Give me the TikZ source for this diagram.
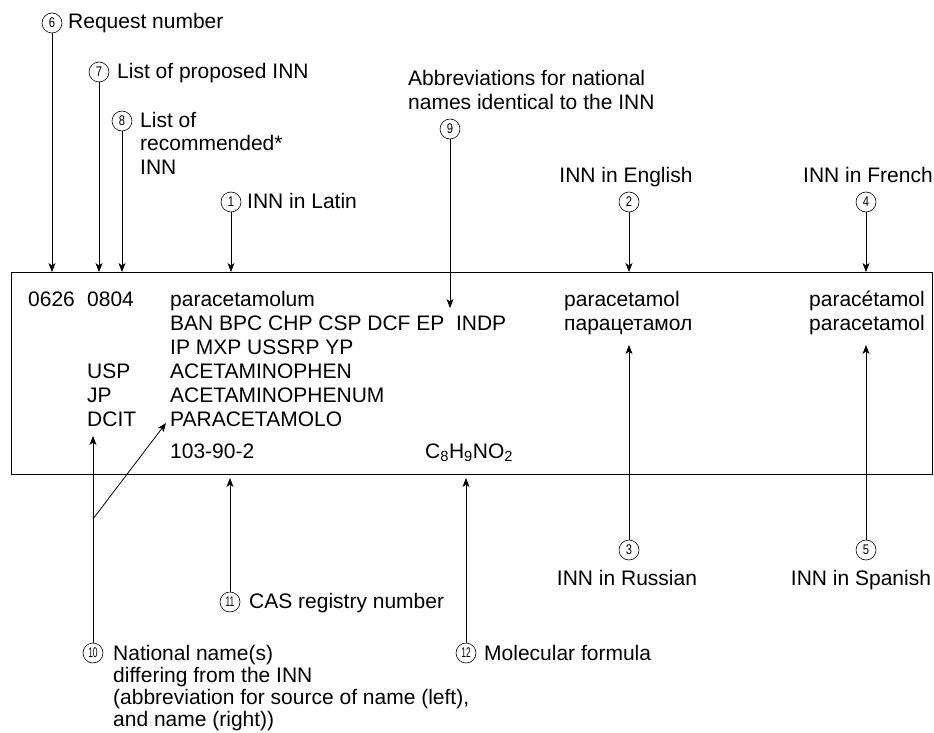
\documentclass[tikz,border=0pt]{standalone}
\usepackage{fontspec}
\setmainfont{Liberation Sans}
\usepackage{graphicx}
\usetikzlibrary{arrows.meta}
\tikzstyle{callout} = [circle, draw=black, line width=0.6pt, inner sep=0pt, minimum size=20pt, font=\fontsize{14}{14}\selectfont]
\tikzstyle{note} = [inner sep=0pt, anchor=base west, align=left, font=\fontsize{21}{24}\selectfont]
\tikzstyle{entry} = [inner sep=0pt, anchor=base west, font=\fontsize{21}{24}\selectfont]
\tikzstyle{arrow} = [line width=0.8pt, -{Stealth[length=9pt, width=7pt, inset=2.5pt]}]
\newcommand{\cnum}[1]{\scalebox{0.8}[1]{#1}}
\newcommand{\cnumw}[1]{\scalebox{0.6}[1]{#1}}

\begin{document}
\begin{tikzpicture}[x=1pt, y=-1pt]
\useasboundingbox (0,0) rectangle (934,733);

% the record
\node (box) [draw=black, line width=1pt, inner sep=0pt, anchor=north west, minimum width=921pt, minimum height=202pt] at (11,272) {};

\node (rq) [entry] at (28,306) {0626};
\node (pl) [entry] at (87,306) {0804};
\node (la) [entry] at (170,306) {paracetamolum};
\node (ab1) [entry] at (170,330) {BAN BPC CHP CSP DCF EP\ \ INDP};
\node (ab2) [entry] at (170,354) {IP MXP USSRP YP};
\node (s1) [entry] at (87,378) {USP};
\node (n1) [entry] at (170,378) {ACETAMINOPHEN};
\node (s2) [entry] at (87,402) {JP};
\node (n2) [entry] at (170,402) {ACETAMINOPHENUM};
\node (s3) [entry] at (87,426) {DCIT};
\node (n3) [entry] at (170,426) {PARACETAMOLO};
\node (cas) [entry] at (170,458) {103-90-2};
\node (mf) [entry] at (425,458) {C\textsubscript{8}H\textsubscript{9}NO\textsubscript{2}};
\node (en) [entry] at (564,306) {paracetamol};
\node (ru) [entry] at (564,330) {парацетамол};
\node (fr) [entry] at (809,306) {paracétamol};
\node (es) [entry] at (809,330) {paracetamol};

% callouts above (multi-line notes sit on their last baseline)
\node (c6) [callout] at (52,23) {\cnum{6}};
\node (t6) [note] at (68,29) {Request number};
\node (c7) [callout] at (99,72) {\cnum{7}};
\node (t7) [note] at (117,79) {List of proposed INN};
\node (c8) [callout] at (122,121) {\cnum{8}};
\node (t8) [note, font=\fontsize{21}{23.5}\selectfont] at (140,174) {List of\\recommended*\\INN};
\node (c1) [callout] at (231,202) {\cnum{1}};
\node (t1) [note] at (247,208) {INN in Latin};
\node (t9) [note] at (408,110) {Abbreviations for national\\names identical to the INN};
\node (c9) [callout] at (450,129) {\cnum{9}};
\node (t2) [note, anchor=base] at (626,182) {INN in English};
\node (c2) [callout] at (629,202) {\cnum{2}};
\node (t4) [note, anchor=base] at (868,182) {INN in French};
\node (c4) [callout] at (866,202) {\cnum{4}};

% callouts below
\node (c3) [callout] at (629,550) {\cnum{3}};
\node (t3) [note, anchor=base] at (627,585) {INN in Russian};
\node (c5) [callout] at (866,550) {\cnum{5}};
\node (t5) [note, anchor=base] at (861,585) {INN in Spanish};
\node (c11) [callout] at (230,602) {\cnumw{11}};
\node (t11) [note] at (249,608) {CAS registry number};
\node (c10) [callout] at (93,653) {\cnumw{10}};
\node (t10) [note, font=\fontsize{21}{22}\selectfont] at (113,726) {National name(s)\\differing from the INN\\(abbreviation for source of name (left),\\and name (right))};
\node (c12) [callout] at (466,653) {\cnumw{12}};
\node (t12) [note] at (484,660) {Molecular formula};

\coordinate (p9) at (450,308);
\coordinate (p3) at (629,345);
\coordinate (p5) at (866,345);
\coordinate (p11) at (230,478);
\coordinate (p12) at (466,478);
\coordinate (p10) at (93,436);
\coordinate (fork) at (93,519);
\coordinate (p10b) at (166,423);

\draw [arrow] (c6) -- (c6 |- box.north);
\draw [arrow] (c7) -- (c7 |- box.north);
\draw [arrow] (c8) -- (c8 |- box.north);
\draw [arrow] (c1) -- (c1 |- box.north);
\draw [arrow] (c9) -- (p9);
\draw [arrow] (c2) -- (c2 |- box.north);
\draw [arrow] (c4) -- (c4 |- box.north);

\draw [arrow] (c3) -- (p3);
\draw [arrow] (c5) -- (p5);
\draw [arrow] (c11) -- (p11);
\draw [arrow] (c12) -- (p12);
\draw [arrow] (c10) -- (p10);
\draw [arrow] (fork) -- (p10b);

\end{tikzpicture}
\end{document}
